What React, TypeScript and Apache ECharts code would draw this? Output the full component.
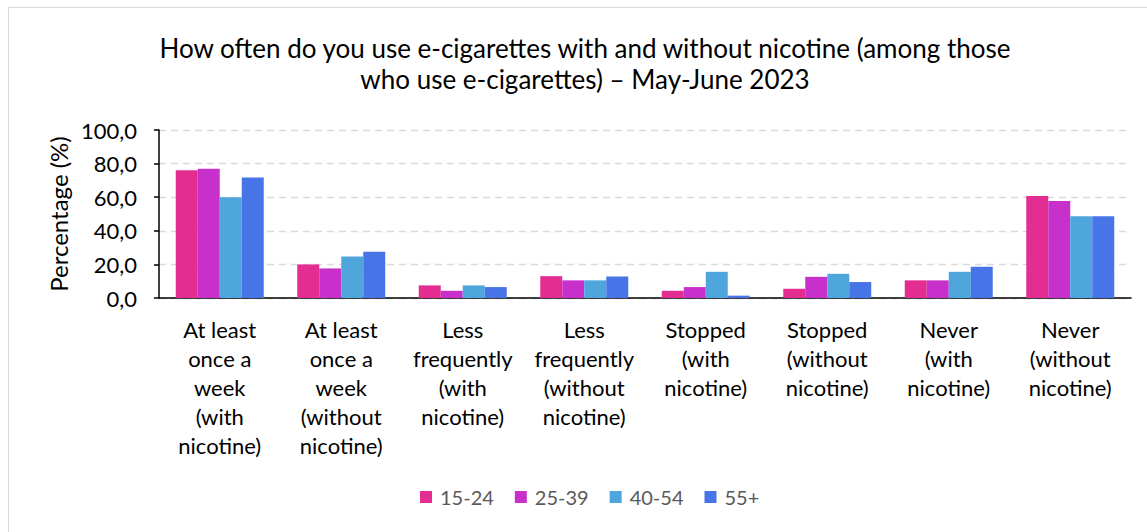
import React, { useEffect, useRef } from "react";
import * as echarts from "echarts";

const titleText =
  "How often do you use e-cigarettes with and without nicotine (among those\nwho use e-cigarettes) – May-June 2023";

const categories = [
  "At least\nonce a\nweek\n(with\nnicotine)",
  "At least\nonce a\nweek\n(without\nnicotine)",
  "Less\nfrequently\n(with\nnicotine)",
  "Less\nfrequently\n(without\nnicotine)",
  "Stopped\n(with\nnicotine)",
  "Stopped\n(without\nnicotine)",
  "Never\n(with\nnicotine)",
  "Never\n(without\nnicotine)",
];

const seriesNames = ["15-24", "25-39", "40-54", "55+"];

const age15to24 = [76, 20, 7.5, 13, 4.3, 5.5, 10.5, 60.7];
const age25to39 = [77, 17.6, 4.3, 10.5, 6.5, 12.6, 10.5, 57.7];
const age40to54 = [60, 24.7, 7.5, 10.5, 15.6, 14.4, 15.6, 48.6];
const age55plus = [71.7, 27.5, 6.5, 12.8, 1.4, 9.5, 18.6, 48.6];

const colors = ["#E32D91", "#C830CC", "#4EA6DC", "#4775E7"];

const yTicks = { min: 0, max: 100, interval: 20 };

const FONT = "Lato, 'Open Sans', sans-serif";

export default function App() {
  const ref = useRef<HTMLDivElement>(null);

  useEffect(() => {
    if (!ref.current) return;
    const chart = echarts.init(ref.current, undefined, { renderer: "svg" });
    const data = [age15to24, age25to39, age40to54, age55plus];
    chart.setOption({
      animation: false,
      color: colors,
      title: {
        text: titleText,
        left: 576,
        top: 24,
        padding: 0,
        textAlign: "center",
        textStyle: {
          fontFamily: FONT,
          fontSize: 26,
          fontWeight: "normal",
          color: "#000",
          lineHeight: 31,
        },
      },
      legend: {
        data: seriesNames,
        bottom: 20,
        left: 406,
        itemWidth: 12,
        itemHeight: 12,
        itemGap: 21,
        icon: "rect",
        textStyle: {
          fontFamily: FONT,
          fontSize: 20,
          color: "#595959",
          padding: [0, 0, 0, 3],
        },
      },
      grid: {
        left: 150,
        right: 16,
        top: 122,
        bottom: 234,
        containLabel: false,
      },
      xAxis: {
        type: "category",
        data: categories,
        axisLine: { lineStyle: { color: "#000", width: 1.5 } },
        axisTick: { show: false },
        axisLabel: {
          interval: 0,
          margin: 17,
          fontFamily: FONT,
          fontSize: 22,
          lineHeight: 29,
          color: "#000",
          align: "center",
        },
      },
      yAxis: {
        type: "value",
        min: yTicks.min,
        max: yTicks.max,
        interval: yTicks.interval,
        name: "Percentage (%)",
        nameLocation: "middle",
        nameGap: 83,
        nameRotate: 90,
        nameTextStyle: { fontFamily: FONT, fontSize: 24, color: "#000" },
        axisLine: { show: true, lineStyle: { color: "#000", width: 1.5 } },
        axisTick: { show: true, length: 5, lineStyle: { color: "#000", width: 1.5 } },
        axisLabel: {
          margin: 22,
          fontFamily: FONT,
          fontSize: 22,
          color: "#000",
          formatter: (v: number) => v.toFixed(1).replace(".", ","),
        },
        splitLine: {
          show: true,
          lineStyle: { color: "#D9D9D9", type: [7, 5], width: 1.3 },
        },
      },
      series: seriesNames.map((name, i) => ({
        name,
        type: "bar",
        data: data[i],
        barWidth: 22,
        barGap: "0%",
        itemStyle: { color: colors[i] },
      })),
    });
    return () => chart.dispose();
  }, []);

  return (
    <div
      style={{
        position: "absolute",
        left: 8,
        top: 7,
        width: 1139,
        height: 525,
        boxSizing: "border-box",
        borderLeft: "1px solid #D9D9D9",
        borderTop: "1px solid #D9D9D9",
        background: "#fff",
      }}
    >
      <div ref={ref} style={{ width: 1138, height: 524 }} />
    </div>
  );
}
